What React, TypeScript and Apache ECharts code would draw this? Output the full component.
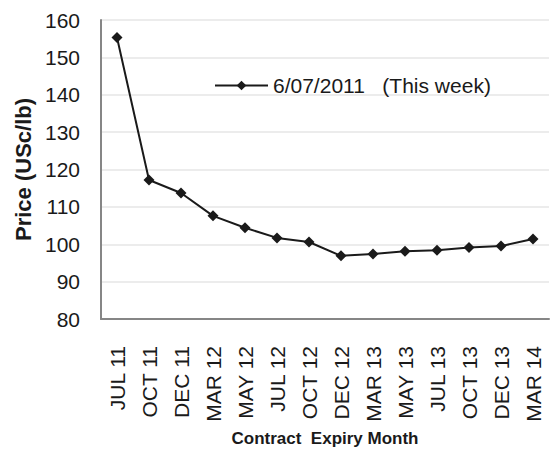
import React, { useEffect, useRef } from "react";
import * as echarts from "echarts";

const months = [
  "JUL 11", "OCT 11", "DEC 11", "MAR 12", "MAY 12", "JUL 12", "OCT 12",
  "DEC 12", "MAR 13", "MAY 13", "JUL 13", "OCT 13", "DEC 13", "MAR 14",
];
const prices = [
  155.3, 117.2, 113.7, 107.6, 104.4, 101.7, 100.6,
  96.9, 97.4, 98.1, 98.4, 99.1, 99.5, 101.4,
];
const seriesName = "6/07/2011   (This week)";

const FONT = "Liberation Sans, Arial, sans-serif";
const INK = "#1a1a1a";

export default function App() {
  const ref = useRef<HTMLDivElement>(null);

  useEffect(() => {
    if (!ref.current) return;
    const chart = echarts.init(ref.current, undefined, { renderer: "svg" });
    chart.setOption({
      animation: false,
      backgroundColor: "#ffffff",
      textStyle: { fontFamily: FONT },
      grid: { left: 101, right: 9, top: 20, bottom: 141 },
      legend: {
        left: 214,
        top: 75,
        padding: 0,
        itemWidth: 53,
        itemHeight: 12,
        textStyle: { fontSize: 21, color: INK, fontFamily: FONT },
        data: [seriesName],
      },
      xAxis: {
        type: "category",
        data: months,
        boundaryGap: true,
        name: "Contract  Expiry Month",
        nameLocation: "middle",
        nameGap: 111,
        nameTextStyle: { fontSize: 17, fontWeight: "bold", color: INK, fontFamily: FONT },
        axisLine: { lineStyle: { color: "#868686", width: 2 } },
        axisTick: { show: false },
        axisLabel: { rotate: 90, fontSize: 21, color: INK, margin: 27, interval: 0, fontFamily: FONT },
      },
      yAxis: {
        type: "value",
        min: 80,
        max: 160,
        interval: 10,
        name: "Price (USc/lb)",
        nameLocation: "middle",
        nameGap: 63,
        nameTextStyle: { fontSize: 22, fontWeight: "bold", color: INK, fontFamily: FONT },
        axisLine: { show: true, lineStyle: { color: "#868686", width: 2 } },
        axisTick: { show: false },
        axisLabel: { fontSize: 21, color: INK, margin: 21, fontFamily: FONT },
        splitLine: { lineStyle: { color: "#e6e6e6", width: 1.5 } },
      },
      series: [
        {
          name: seriesName,
          type: "line",
          data: prices,
          symbol: "diamond",
          symbolSize: 11,
          lineStyle: { color: INK, width: 2 },
          itemStyle: { color: INK },
        },
      ],
    });
    return () => chart.dispose();
  }, []);

  return (
    <div
      ref={ref}
      style={{ position: "absolute", left: 0, top: 0, width: 558, height: 460 }}
    />
  );
}
